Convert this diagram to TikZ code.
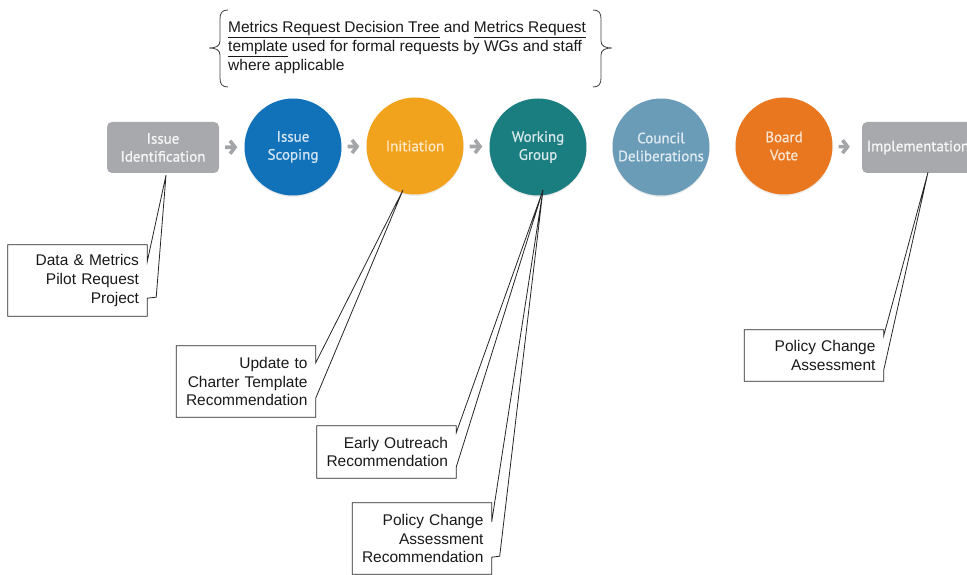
\documentclass[tikz,border=0pt]{standalone}
\usepackage{fontspec}
\setmainfont{Liberation Sans}
\newfontfamily\stagefont[FakeBold=0.8]{PT Sans}
\usetikzlibrary{arrows.meta, calc, positioning, shadows}

\definecolor{stepgray}{HTML}{A8A9AC}
\definecolor{arrowgray}{HTML}{A3A5A8}
\definecolor{scopeblue}{HTML}{1172B9}
\definecolor{initorange}{HTML}{F2A31E}
\definecolor{wgteal}{HTML}{1A7D80}
\definecolor{councilblue}{HTML}{6A9CB8}
\definecolor{boardorange}{HTML}{E8771F}

\begin{document}
\begin{tikzpicture}[x=1pt, y=-1pt, >={Straight Barb[length=5pt, width=13pt]}]
\tikzstyle{stage}=[circle, minimum size=97pt, inner sep=0pt, align=center,
  font=\stagefont\fontsize{15}{18}\selectfont,
  drop shadow={shadow xshift=0pt, shadow yshift=-1.5pt, opacity=0.15}]
\tikzstyle{endbox}=[rounded corners=5pt, fill=stepgray, text=white!90!stepgray,
  minimum width=112pt, minimum height=51pt, inner sep=0pt, align=center,
  font=\stagefont\fontsize{15}{18}\selectfont]
\tikzstyle{flow}=[->, draw=arrowgray, line width=3.6pt, shorten <=6pt, shorten >=7pt]
\tikzstyle{callout}=[inner xsep=8pt, inner ysep=0pt, text width=123pt, align=right,
  text=black!90, font=\fontsize{15.5}{18.8}\selectfont]
\tikzstyle{wedge}=[draw=black!85, line width=0.8pt, line join=miter]
\tikzstyle{bracket}=[draw=black!75, line width=0.8pt]

\useasboundingbox (0,0) rectangle (967,575);

% process stages
\node[endbox] (idn) at (163,147.5) {Issue\\Identification};
\node[stage, fill=scopeblue, text=white!82!scopeblue] (scp) at (293,147) {Issue\\Scoping};
\node[stage, fill=initorange, text=white!75!initorange] (ini) at (415,146) {Initiation};
\node[stage, fill=wgteal, text=white!82!wgteal] (wkg) at (538,147) {Working\\Group};
\node[stage, fill=councilblue, text=white!80!councilblue] (cnl) at (661,147) {Council\\Deliberations};
\node[stage, fill=boardorange, text=white!80!boardorange] (brd) at (784,146) {Board\\Vote};
\node[endbox] (imp) at (918,147.5) {Implementation};

\draw[flow] (idn) -- (scp);
\draw[flow] (scp) -- (ini);
\draw[flow] (ini) -- (wkg);
\draw[flow, shorten >=12pt] (brd) -- (imp);

% note in braces
\node[anchor=west, align=left, inner sep=0pt, text=black!90,
  font=\fontsize{15.5}{18.8}\selectfont] (tmpl) at (228,47.5)
  {\underline{Metrics Request Decision Tree} and \underline{Metrics Request}\\
   \underline{template} used for formal requests by WGs and staff\\
   where applicable};
\draw[bracket] (228,10) .. controls (222,10) and (220,13) .. (220,19) -- (220,41)
  .. controls (220,46) and (216,48) .. (209,48) .. controls (216,48) and (220,50) .. (220,55)
  -- (220,78) .. controls (220,84) and (222,87) .. (228,87);
\draw[bracket] (593,10) .. controls (599,10) and (601,13) .. (601,19) -- (601,41)
  .. controls (601,46) and (605,48) .. (612,48) .. controls (605,48) and (601,50) .. (601,55)
  -- (601,78) .. controls (601,84) and (599,87) .. (593,87);

% callouts
\coordinate (t1) at ($(idn.south)+(3,2)$);
\coordinate (t2) at ($(ini.center)+(-12,44)$);
\coordinate (t3) at ($(wkg.center)+(5,43)$);
\coordinate (t4) at ($(imp.south)+(10,-1)$);

\node[callout, minimum height=71pt] (dmp) at (77.5,280.5) {Data \& Metrics\\Pilot Request\\Project};
\draw[wedge] (dmp.north west) -- (dmp.north east) -- ([yshift=-17pt]dmp.north east) -- (t1)
  -- ([shift={(9pt,19pt)}]dmp.south east) -- ([yshift=18pt]dmp.south east)
  -- (dmp.south east) -- (dmp.south west) -- cycle;

\node[callout, minimum height=71pt] (ctr) at (246,381.5) {Update to\\Charter Template\\Recommendation};
\draw[wedge] (ctr.north west) -- (ctr.north east) -- ([yshift=-17pt]ctr.north east) -- (t2)
  -- ([yshift=19pt]ctr.south east) -- (ctr.south east) -- (ctr.south west) -- cycle;

\node[callout, minimum height=52pt] (eor) at (386.5,452) {Early Outreach\\Recommendation};
\draw[wedge] (eor.north west) -- (eor.north east) -- ([yshift=-7pt]eor.north east) -- (t3)
  -- ([yshift=11pt]eor.south east) -- (eor.south east) -- (eor.south west) -- cycle;

\node[callout, minimum height=71pt] (pcr) at (422,538.5) {Policy Change\\Assessment\\Recommendation};
\draw[wedge] (pcr.north west) -- (pcr.north east) -- ([yshift=-19pt]pcr.north east) -- (t3)
  -- ([shift={(8pt,18pt)}]pcr.south east) -- ([yshift=17pt]pcr.south east)
  -- (pcr.south east) -- (pcr.south west) -- cycle;

\node[callout, minimum height=51pt] (pca) at (814,355.5) {Policy Change\\Assessment};
\draw[wedge] (pca.north west) -- (pca.north east) -- ([yshift=-6pt]pca.north east) -- (t4)
  -- ([yshift=11pt]pca.south east) -- (pca.south east) -- (pca.south west) -- cycle;
\end{tikzpicture}
\end{document}
